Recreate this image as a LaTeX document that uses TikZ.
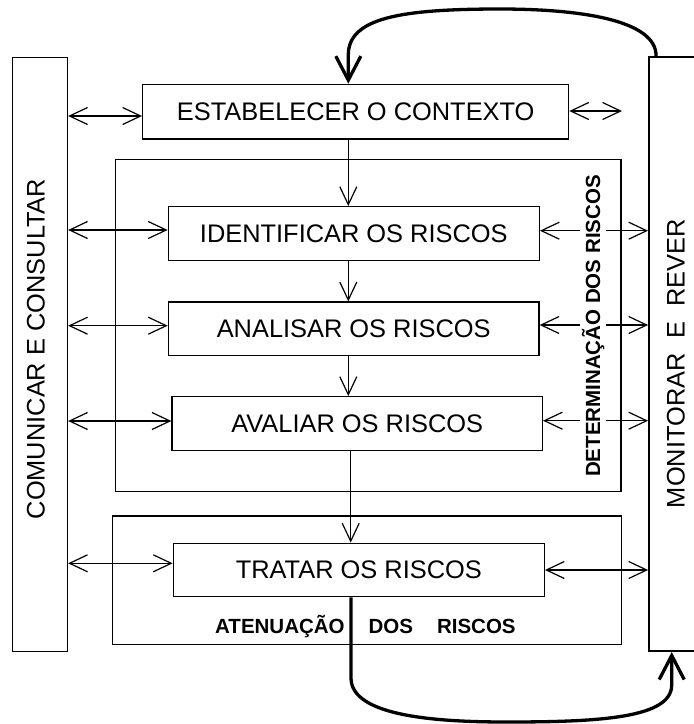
\documentclass[tikz,border=0pt]{standalone}
\usepackage{fontspec}
\setmainfont{Liberation Sans}
\usetikzlibrary{arrows.meta,calc}
\begin{document}
\begin{tikzpicture}[x=1pt,y=-1pt,
  box/.style={draw, line width=1.3pt, inner sep=0pt},
  lbl/.style={font=\fontsize{25.4}{30}\selectfont},
  blbl/.style={font=\fontsize{20.5}{24}\selectfont\bfseries},
  dbl/.style={line width=1.2pt, {Straight Barb[length=18pt,width=17pt]}-{Straight Barb[length=18pt,width=17pt]}},
  arr/.style={line width=1.2pt, -{Straight Barb[length=18pt,width=17pt]}},
  thk/.style={line width=3.3pt, -{Straight Barb[length=24pt,width=25pt]}}
]
\useasboundingbox (0,0) rectangle (694,724);
\clip (0,0) rectangle (694,724);

% side boxes
\node[box, minimum width=55pt, minimum height=594.4pt] (comm) at (40,354.5) {};
\node[lbl, rotate=90] (commt) at (36,349) {COMUNICAR E CONSULTAR};
\node[box, line width=1.8pt, minimum width=91pt, minimum height=593.7pt] (mon) at (694.5,354.2) {};
\node[lbl, rotate=90] (mont) at (676,363.5) {MONITORAR\hspace{15pt}E\hspace{15pt}REVER};

% main boxes
\node[box, lbl, minimum width=426pt, minimum height=54.5pt] (estab) at (355.7,111.6) {ESTABELECER O CONTEXTO};
\node[box, minimum width=505.3pt, minimum height=332.4pt] (det) at (368.4,325.5) {};
\node[box, lbl, minimum width=371pt, minimum height=54pt] (ident) at (353.8,233.7) {IDENTIFICAR OS RISCOS};
\node[box, lbl, minimum width=370.7pt, minimum height=53.7pt] (anal) at (353.7,328.9) {ANALISAR OS RISCOS};
\node[box, lbl, minimum width=370.3pt, minimum height=54pt] (aval) at (357.2,423.7) {AVALIAR OS RISCOS};
\node[box, minimum width=509pt, minimum height=128.3pt] (aten) at (367.2,580.2) {};
\node[box, lbl, minimum width=371pt, minimum height=53.5pt] (trat) at (358.8,570) {TRATAR OS RISCOS};

% vertical flow
\coordinate (cA) at (348.3,0);
\coordinate (cB) at (350.7,0);
\draw[arr] (estab.south -| cA) -- (ident.north -| cA);
\draw[arr] (ident.south -| cA) -- (anal.north -| cA);
\draw[arr] (anal.south -| cA) -- (aval.north -| cA);
\draw[arr] (aval.south -| cB) -- (trat.north -| cB);

% left double arrows
\coordinate (eL) at ($(estab.west)+(0,4.4)$);
\coordinate (iL) at ($(ident.west)+(0,-3.7)$);
\coordinate (aL) at ($(anal.west)+(0,-3.2)$);
\coordinate (vL) at ($(aval.west)+(0,-2.7)$);
\coordinate (tL) at ($(trat.west)+(0,-6.7)$);
\draw[dbl] (comm.east |- eL) -- (eL);
\draw[dbl] (comm.east |- iL) -- (iL);
\draw[dbl] (comm.east |- aL) -- (aL);
\draw[dbl] (comm.east |- vL) -- (vL);
\draw[dbl] (comm.east |- tL) -- (tL);

% right double arrows
\coordinate (eR) at ($(estab.east)+(0,-0.6)$);
\coordinate (eRend) at (622,111);
\coordinate (iR) at ($(ident.east)+(0,-3)$);
\coordinate (aR) at ($(anal.east)+(0,-3.9)$);
\coordinate (vR) at ($(aval.east)+(0,-3)$);
\coordinate (tR) at (trat.east);
\draw[dbl] (eR) -- (eRend);
\draw[dbl] (iR) -- (mon.west |- iR);
\draw[dbl] (aR) -- (mon.west |- aR);
\draw[dbl] (vR) -- (mon.west |- vR);
\draw[dbl] (tR) -- (mon.west |- tR);

% group labels
\node[blbl, rotate=90, fill=white, inner sep=1.5pt] (dett) at (593,326) {DETERMINAÇÃO DOS RISCOS};
\node[blbl, anchor=base west, inner sep=0pt] (atent) at (215,633) {ATENUAÇÃO\hspace{24pt}DOS\hspace{24pt}RISCOS};

% feedback loops
\coordinate (ts) at ($(mon.north west)+(8,0)$);
\draw[thk] (ts) .. controls (657,20) and (580,9) .. (500,9) .. controls (400,9) and (348.3,18) .. (348.3,55) -- (estab.north -| cA);
\coordinate (cC) at (351,0);
\coordinate (cD) at (671.7,0);
\draw[thk] (trat.south -| cC) -- (351,678) .. controls (351,717) and (440,722) .. (507,722) .. controls (600,722) and (671.7,718) .. (671.7,685) -- (mon.south -| cD);
\end{tikzpicture}
\end{document}
